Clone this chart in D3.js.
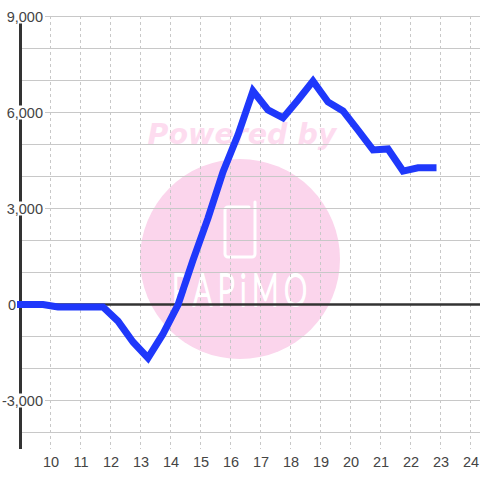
<!DOCTYPE html>
<html><head><meta charset="utf-8">
<script src="https://cdn.jsdelivr.net/npm/d3@7"></script>
<style>html,body{margin:0;padding:0;background:#fff}svg{display:block}</style>
</head><body><svg id="c" width="480" height="480"></svg>
<script>
const hours=[9,9.75,10.25,10.75,11.25,11.75,12.25,12.75,13.25,13.75,14.25,14.75,15.25,15.75,16.25,16.75,17.25,17.75,18.25,18.75,19.25,19.75,20.25,20.75,21.25,21.75,22.25,22.75];
const values=[0,0,-80,-80,-80,-80,-520,-1170,-1670,-920,-15,1390,2700,4140,5300,6670,6080,5830,6390,6980,6330,6050,5450,4830,4860,4170,4270,4270];
const xTicks=[10,11,12,13,14,15,16,17,18,19,20,21,22,23,24];
const yGrid=[9000,8000,7000,6000,5000,4000,3000,2000,1000,-1000,-2000,-3000,-4000];
const yLabels=[9000,6000,3000,0,-3000];
const watermarkTitle="Powered by";
const watermarkBrand="PAPiMO";

const svg=d3.select("#c");
const x=d3.scaleLinear().domain([9,25]).range([20.5,500.5]);
const y=d3.scaleLinear().domain([9000,-4500]).range([16.5,448.5]);
const line=d3.line().x((d,i)=>x(hours[i])).y(d=>y(d));

const pink="#fbd5ec", font="'Liberation Sans',Arial,sans-serif";
const wm=svg.append("g");
wm.append("text").attr("x",242).attr("y",144).attr("text-anchor","middle")
  .attr("font-family","'DejaVu Sans'").attr("font-weight","bold").attr("font-style","italic")
  .attr("font-size",28.5).attr("fill","#fddcef").text(watermarkTitle);
wm.append("circle").attr("cx",240).attr("cy",259).attr("r",100).attr("fill",pink);
wm.append("path").attr("d","M249 207H228a3 3 0 0 0-3 3V254a3 3 0 0 0 3 3H252a3 3 0 0 0 3-3V202")
  .attr("fill","none").attr("stroke","#fff").attr("stroke-width",3).attr("stroke-linecap","round");
wm.append("text").attr("transform","translate(172,306) scale(.65,1)").attr("textLength",208)
  .attr("font-family","Lato").attr("font-weight",300).attr("font-size",45)
  .attr("fill","#fff").attr("stroke","#fff").attr("stroke-width",2).text(watermarkBrand);

const grid=svg.append("g");
grid.selectAll("line.h").data(yGrid).join("line").attr("class","h")
  .attr("x1",20).attr("x2",480).attr("y1",d=>y(d)).attr("y2",d=>y(d))
  .attr("stroke","#c8c8c8").attr("stroke-width",1.1);
grid.selectAll("line.v").data(xTicks).join("line").attr("class","v")
  .attr("x1",d=>x(d)).attr("x2",d=>x(d)).attr("y1",16).attr("y2",449)
  .attr("stroke","#c8c8c8").attr("stroke-width",1).attr("stroke-dasharray","3 3");

svg.append("line").attr("x1",20.5).attr("x2",20.5).attr("y1",16).attr("y2",449).attr("stroke","#333").attr("stroke-width",3);
svg.append("line").attr("x1",17).attr("x2",480).attr("y1",y(0)).attr("y2",y(0)).attr("stroke","#333").attr("stroke-width",2.7);

const xAxis=svg.append("g").attr("transform","translate(0,466)")
  .call(d3.axisBottom(x).tickValues(xTicks).tickSize(0).tickPadding(0));
xAxis.select(".domain").remove();
xAxis.selectAll("text").attr("dy",0).attr("y",1).attr("font-family",font).attr("font-size",14.5).attr("fill","#444");

const labels=svg.append("g").selectAll("g").data(yLabels).join("g")
  .attr("transform",d=>`translate(${d===0?16:43},${y(d)})`);
labels.filter(d=>d!==0).append("rect").attr("x",-42).attr("y",-7).attr("width",44).attr("height",14).attr("fill","#fff");
labels.append("text").attr("text-anchor","end").attr("y",5.2)
  .attr("font-family",font).attr("font-size",14.5).attr("fill","#444").text(d=>d3.format(",")(d).replace("\u2212","-"));

svg.append("path").datum(values).attr("d",line).attr("fill","none")
  .attr("stroke","#1f38fb").attr("stroke-width",7).attr("stroke-linejoin","miter").attr("stroke-linecap","square");
</script></body></html>
